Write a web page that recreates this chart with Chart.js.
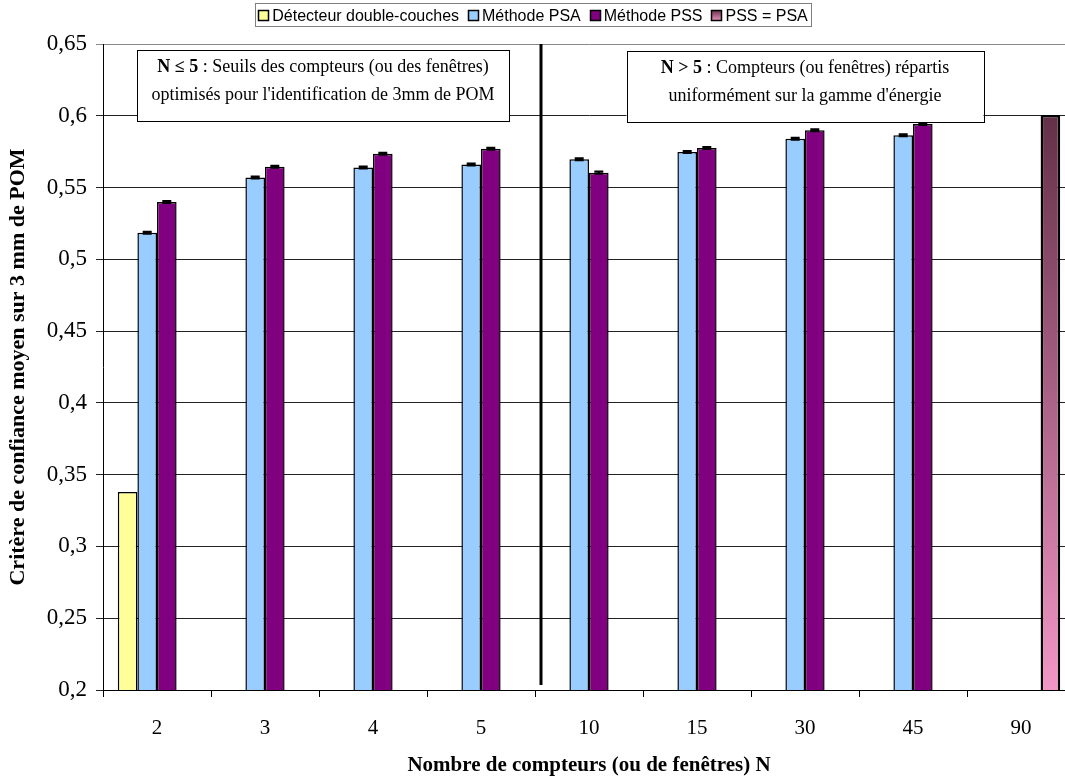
<!DOCTYPE html>
<html><head><meta charset="utf-8">
<script src="https://cdn.jsdelivr.net/npm/chart.js@4.4.0/dist/chart.umd.min.js"></script>
<style>html,body{margin:0;padding:0;overflow:hidden;background:#fff}#wrap{width:1078px;height:778px;position:relative}</style>
</head><body><div id="wrap"><canvas id="c"></canvas></div>
<script>
const categories = ['2','3','4','5','10','15','30','45','90'];
const detecteur = [0.338, null, null, null, null, null, null, null, null];
const psa = [0.5186, 0.557, 0.564, 0.566, 0.5697, 0.5748, 0.584, 0.5864, null];
const pss = [0.540, 0.5645, 0.5735, 0.577, 0.5604, 0.5776, 0.590, 0.5943, null];
const pssEqPsa = [null, null, null, null, null, null, null, null, 0.6005];
const psaErr = [0.0007, 0.0007, 0.0007, 0.0007, 0.0007, 0.0007, 0.0007, 0.0007, null];
const pssErr = [0.0007, 0.0007, 0.0007, 0.0007, 0.0007, 0.0007, 0.0007, 0.0007, null];
const seriesLabels = ['Détecteur double-couches', 'Méthode PSA', 'Méthode PSS', 'PSS = PSA'];
const yTitle = 'Critère de confiance moyen sur 3 mm de POM';
const xTitle = 'Nombre de compteurs (ou de fenêtres) N';
const noteLeft = [['N ≤ 5', ' : Seuils des compteurs (ou des fenêtres)'], ['', "optimisés pour l'identification de 3mm de POM"]];
const noteRight = [['N > 5', ' : Compteurs (ou fenêtres) répartis'], ['', "uniformément sur la gamme d'énergie"]];

const SERIF = '"Liberation Serif", "Times New Roman", serif';
const SANS = '"Liberation Sans", Arial, sans-serif';

function gradFill(ctx) {
  const chart = ctx.chart;
  const a = chart.chartArea;
  if (!a) return '#b06088';
  const y = chart.scales.y;
  const g = chart.ctx.createLinearGradient(0, y.getPixelForValue(0.6), 0, a.bottom);
  g.addColorStop(0, '#643048');
  g.addColorStop(1, '#f296c6');
  return g;
}

const errorBars = {
  id: 'errorBars',
  afterDatasetsDraw(chart) {
    const ctx = chart.ctx, ys = chart.scales.y;
    chart.data.datasets.forEach((ds, di) => {
      if (!ds.errors) return;
      const meta = chart.getDatasetMeta(di);
      meta.data.forEach((bar, i) => {
        const v = ds.data[i], e = ds.errors[i];
        if (v == null || e == null) return;
        const y1 = ys.getPixelForValue(v + e), y2 = ys.getPixelForValue(v - e);
        ctx.save();
        ctx.strokeStyle = '#000';
        ctx.lineWidth = 2;
        ctx.beginPath();
        ctx.moveTo(bar.x, y1); ctx.lineTo(bar.x, y2);
        ctx.moveTo(bar.x - 4.5, y1); ctx.lineTo(bar.x + 4.5, y1);
        ctx.moveTo(bar.x - 4.5, y2); ctx.lineTo(bar.x + 4.5, y2);
        ctx.stroke();
        ctx.restore();
      });
    });
  }
};

function drawNote(ctx, cx, top, w, h, lines) {
  ctx.save();
  ctx.fillStyle = '#fff';
  ctx.fillRect(cx - w / 2, top, w, h);
  ctx.strokeStyle = '#000';
  ctx.lineWidth = 1;
  ctx.strokeRect(Math.round(cx - w / 2) + 0.5, Math.round(top) + 0.5, w, h);
  ctx.fillStyle = '#000';
  ctx.textBaseline = 'middle';
  const bold = 'bold 18px ' + SERIF, norm = '18px ' + SERIF;
  lines.forEach((parts, i) => {
    ctx.font = bold; const w1 = ctx.measureText(parts[0]).width;
    ctx.font = norm; const w2 = ctx.measureText(parts[1]).width;
    let x = cx - (w1 + w2) / 2;
    const y = top + 17 + i * 28;
    ctx.textAlign = 'left';
    ctx.font = bold; ctx.fillText(parts[0], x, y);
    ctx.font = norm; ctx.fillText(parts[1], x + w1, y);
  });
  ctx.restore();
}

const annotations = {
  id: 'annotations',
  beforeDatasetsDraw(chart) {
    const ctx = chart.ctx, xs = chart.scales.x, a = chart.chartArea;
    const sx = (xs.getPixelForValue(3) + xs.getPixelForValue(4)) / 2 + 6;
    ctx.save();
    ctx.strokeStyle = '#000';
    ctx.lineWidth = 3;
    ctx.beginPath();
    ctx.moveTo(sx, a.top);
    ctx.lineTo(sx, a.bottom - 5);
    ctx.stroke();
    ctx.restore();
    const c1 = (xs.getPixelForValue(1) + xs.getPixelForValue(2)) / 2 + 4;
    const c2 = xs.getPixelForValue(6);
    drawNote(ctx, c1, a.top + 6, 372, 71, noteLeft);
    drawNote(ctx, c2, a.top + 7, 357, 71, noteRight);
  },
  afterDraw(chart) {
    const ctx = chart.ctx;
    const font = '16px ' + SANS;
    ctx.save();
    ctx.font = font;
    const box = 11, gapText = 3, gapItem = 9;
    const ds = chart.data.datasets;
    const widths = ds.map(d => ctx.measureText(d.label).width);
    const total = widths.reduce((s, w) => s + box + gapText + w, 0) + gapItem * (ds.length - 1);
    const center = 533;
    let x = center - total / 2;
    const cy = 15.5;
    ctx.strokeStyle = '#808080';
    ctx.lineWidth = 1;
    ctx.strokeRect(Math.round(x - 3) + 0.5, 3.5, Math.round(total + 6), 23);
    const fills = ['#ffff99', '#99ccff', '#800080', null];
    ds.forEach((d, i) => {
      const bx = Math.round(x), by = Math.round(cy - box / 2);
      if (fills[i]) {
        ctx.fillStyle = fills[i];
      } else {
        const g = ctx.createLinearGradient(0, by, 0, by + box);
        g.addColorStop(0, '#643048');
        g.addColorStop(1, '#f296c6');
        ctx.fillStyle = g;
      }
      ctx.fillRect(bx, by, box, box);
      ctx.strokeStyle = '#000';
      ctx.lineWidth = 1.5;
      ctx.strokeRect(bx + 0.5, by + 0.5, box - 1, box - 1);
      ctx.fillStyle = '#000';
      ctx.textBaseline = 'middle';
      ctx.textAlign = 'left';
      ctx.fillText(d.label, x + box + gapText, cy + 1);
      x += box + gapText + widths[i] + gapItem;
    });
    ctx.restore();
  }
};

new Chart(document.getElementById('c'), {
  type: 'bar',
  data: {
    labels: categories,
    datasets: [
      { label: seriesLabels[0], data: detecteur, backgroundColor: '#ffff99', borderColor: '#000', borderWidth: 1.5 },
      { label: seriesLabels[1], data: psa, errors: psaErr, backgroundColor: '#99ccff', borderColor: '#000', borderWidth: 1.5 },
      { label: seriesLabels[2], data: pss, errors: pssErr, backgroundColor: '#800080', borderColor: '#000', borderWidth: 1.5 },
      { label: seriesLabels[3], data: pssEqPsa, backgroundColor: gradFill, borderColor: '#000', borderWidth: 2.5 }
    ]
  },
  options: {
    responsive: true,
    maintainAspectRatio: false,
    animation: false,
    datasets: { bar: { categoryPercentage: 0.726, barPercentage: 1 } },
    layout: { padding: { left: 0, right: 3, top: 44, bottom: 0 } },
    plugins: {
      tooltip: { enabled: false },
      legend: { display: false }
    },
    scales: {
      x: {
        grid: { offset: true, drawOnChartArea: false, drawTicks: true, tickLength: 7, color: '#000' },
        border: { color: '#000', width: 1 },
        ticks: { font: { family: SERIF, size: 21 }, color: '#000', padding: 19 },
        title: { display: true, text: xTitle, color: '#000', font: { family: SERIF, size: 21, weight: 'bold' }, padding: { top: 0, bottom: 0 } },
        afterFit(s) { s.height = 88; }
      },
      y: {
        min: 0.2,
        max: 0.65,
        ticks: {
          stepSize: 0.05,
          font: { family: SERIF, size: 23 },
          color: '#000',
          padding: 9,
          callback: (v) => String(+(+v).toFixed(2)).replace('.', ',')
        },
        grid: {
          color: (c) => (c.tick && c.tick.value > 0.649) ? '#888' : '#222',
          tickLength: 7,
          drawTicks: true
        },
        border: { color: '#000', width: 1 },
        title: { display: true, text: yTitle, color: '#000', font: { family: SERIF, size: 22, weight: 'bold' }, padding: { top: 5, bottom: 0 } },
        afterFit(s) { s.width = 103; }
      }
    }
  },
  plugins: [errorBars, annotations]
});
</script>
</body></html>
